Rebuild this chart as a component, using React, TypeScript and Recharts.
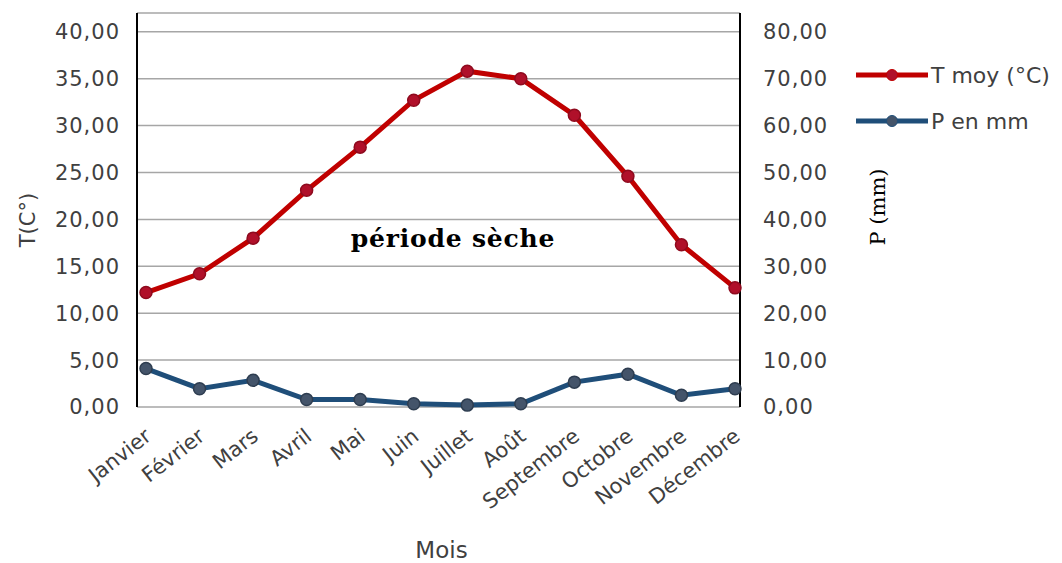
import React from "react"
import {
  LineChart,
  Line,
  XAxis,
  YAxis,
  CartesianGrid,
  Legend,
  Customized,
} from "recharts"

// Données climatiques mensuelles
const months = [
  "Janvier", "Février", "Mars", "Avril", "Mai", "Juin",
  "Juillet", "Août", "Septembre", "Octobre", "Novembre", "Décembre",
]
const tempMoy = [12.2, 14.2, 18.0, 23.1, 27.7, 32.7, 35.8, 35.0, 31.1, 24.6, 17.3, 12.7]
const precipMm = [8.2, 3.9, 5.7, 1.6, 1.6, 0.7, 0.4, 0.7, 5.3, 7.0, 2.5, 3.9]

const tempTicks = [0, 5, 10, 15, 20, 25, 30, 35, 40]
const precipTicks = [0, 10, 20, 30, 40, 50, 60, 70, 80]

const data = months.map((mois, i) => ({ mois, t: tempMoy[i], p: precipMm[i] }))

const RED = "#C00000"
const BLUE = "#1F4E79"
const TEXT = "#404040"
const SANS = "'DejaVu Sans', sans-serif"
const SERIF = "'DejaVu Serif', 'Liberation Serif', serif"

const fmt = (v: number) => v.toFixed(2).replace(".", ",")

const MonthTick = ({ x, y, payload }: any) => (
  <text
    x={x + 2}
    y={y}
    dy="0.35em"
    textAnchor="end"
    transform={`rotate(-38 ${x + 2} ${y})`}
    fill={TEXT}
    fontSize={21}
    fontFamily={SANS}
  >
    {payload.value}
  </text>
)

// titre d'axe vertical, tourné de -90°, centré sur (cx, cy)
const vTitle = (text: string, dx: number, dy: number, font: string, size: number, color: string) =>
  ({ viewBox }: any) => {
    const cx = viewBox.x + dx
    const cy = viewBox.y + viewBox.height / 2 + dy
    return (
      <text
        x={cx}
        y={cy}
        dy="0.35em"
        textAnchor="middle"
        transform={`rotate(-90 ${cx} ${cy})`}
        fontFamily={font}
        fontSize={size}
        fill={color}
      >
        {text}
      </text>
    )
  }

const MoisTitle = ({ viewBox }: any) => (
  <text
    x={viewBox.x + viewBox.width / 2 + 3}
    y={viewBox.y + viewBox.height - 5}
    textAnchor="middle"
    fontFamily={SANS}
    fontSize={23}
    fill={TEXT}
  >
    Mois
  </text>
)

const LegendBox = () => {
  const rows = [
    { label: "T moy (°C)", color: RED, marker: "#B0102A" },
    { label: "P en mm", color: BLUE, marker: "#44546A" },
  ]
  return (
    <div>
      {rows.map((r) => (
        <div key={r.label} style={{ display: "flex", alignItems: "center", height: 46 }}>
          <svg width={74} height={14}>
            <line x1={0} y1={7} x2={72} y2={7} stroke={r.color} strokeWidth={5} />
            <circle cx={36} cy={7} r={5.5} fill={r.marker} stroke={r.color} strokeWidth={1} />
          </svg>
          <span style={{ fontFamily: SANS, fontSize: 22, color: TEXT, marginLeft: 1 }}>{r.label}</span>
        </div>
      ))}
    </div>
  )
}

const DryLabel = () => (
  <text
    x={453}
    y={247}
    textAnchor="middle"
    fontFamily={SERIF}
    fontWeight="bold"
    fontSize={25}
    letterSpacing={0.8}
    fill="#000"
  >
    période sèche
  </text>
)

export default function App() {
  return (
    <div style={{ position: "absolute", left: 0, top: 0, background: "#fff" }}>
      <LineChart
        width={1062}
        height={563}
        data={data}
        margin={{ top: 13, right: 0, bottom: 0, left: 0 }}
      >
        <CartesianGrid
          yAxisId="t"
          vertical={false}
          stroke="#A6A6A6"
          strokeWidth={1.5}
        />
        <XAxis
          dataKey="mois"
          height={156}
          interval={0}
          padding={{ left: 9, right: 5 }}
          axisLine={false}
          tickLine={false}
          tickSize={0}
          tickMargin={26}
          tick={<MonthTick />}
          label={<MoisTitle />}
        />
        <YAxis
          yAxisId="t"
          width={137}
          domain={[0, 42]}
          ticks={tempTicks}
          tickFormatter={fmt}
          tickLine={false}
          tickSize={0}
          tickMargin={17}
          axisLine={{ stroke: "#000", strokeWidth: 2 }}
          tick={{ fill: TEXT, fontSize: 21, fontFamily: SANS, letterSpacing: 1 }}
          label={{ content: vTitle("T(C°)", 28, 10, SANS, 21, TEXT) }}
        />
        <YAxis
          yAxisId="p"
          orientation="right"
          width={322}
          domain={[0, 84]}
          ticks={precipTicks}
          tickFormatter={fmt}
          tickLine={false}
          tickSize={0}
          tickMargin={23}
          axisLine={{ stroke: "#000", strokeWidth: 2 }}
          tick={{ fill: TEXT, fontSize: 21, fontFamily: SANS, letterSpacing: 1, textAnchor: "start" }}
          label={{ content: vTitle("P (mm)", 138, -3, SERIF, 21, "#000") }}
        />
        <Line
          yAxisId="t"
          dataKey="t"
          name="T moy (°C)"
          stroke={RED}
          strokeWidth={5}
          dot={{ r: 6, fill: "#B0102A", stroke: "#8E0A1E", strokeWidth: 1.5 }}
          isAnimationActive={false}
        />
        <Line
          yAxisId="p"
          dataKey="p"
          name="P en mm"
          stroke={BLUE}
          strokeWidth={5}
          dot={{ r: 6, fill: "#44546A", stroke: "#2E3D50", strokeWidth: 1.5 }}
          isAnimationActive={false}
        />
        <Customized component={DryLabel} />
        <Legend
          layout="vertical"
          align="center"
          verticalAlign="middle"
          wrapperStyle={{ left: 856, top: 52, width: 206 }}
          content={<LegendBox />}
        />
      </LineChart>
    </div>
  )
}
